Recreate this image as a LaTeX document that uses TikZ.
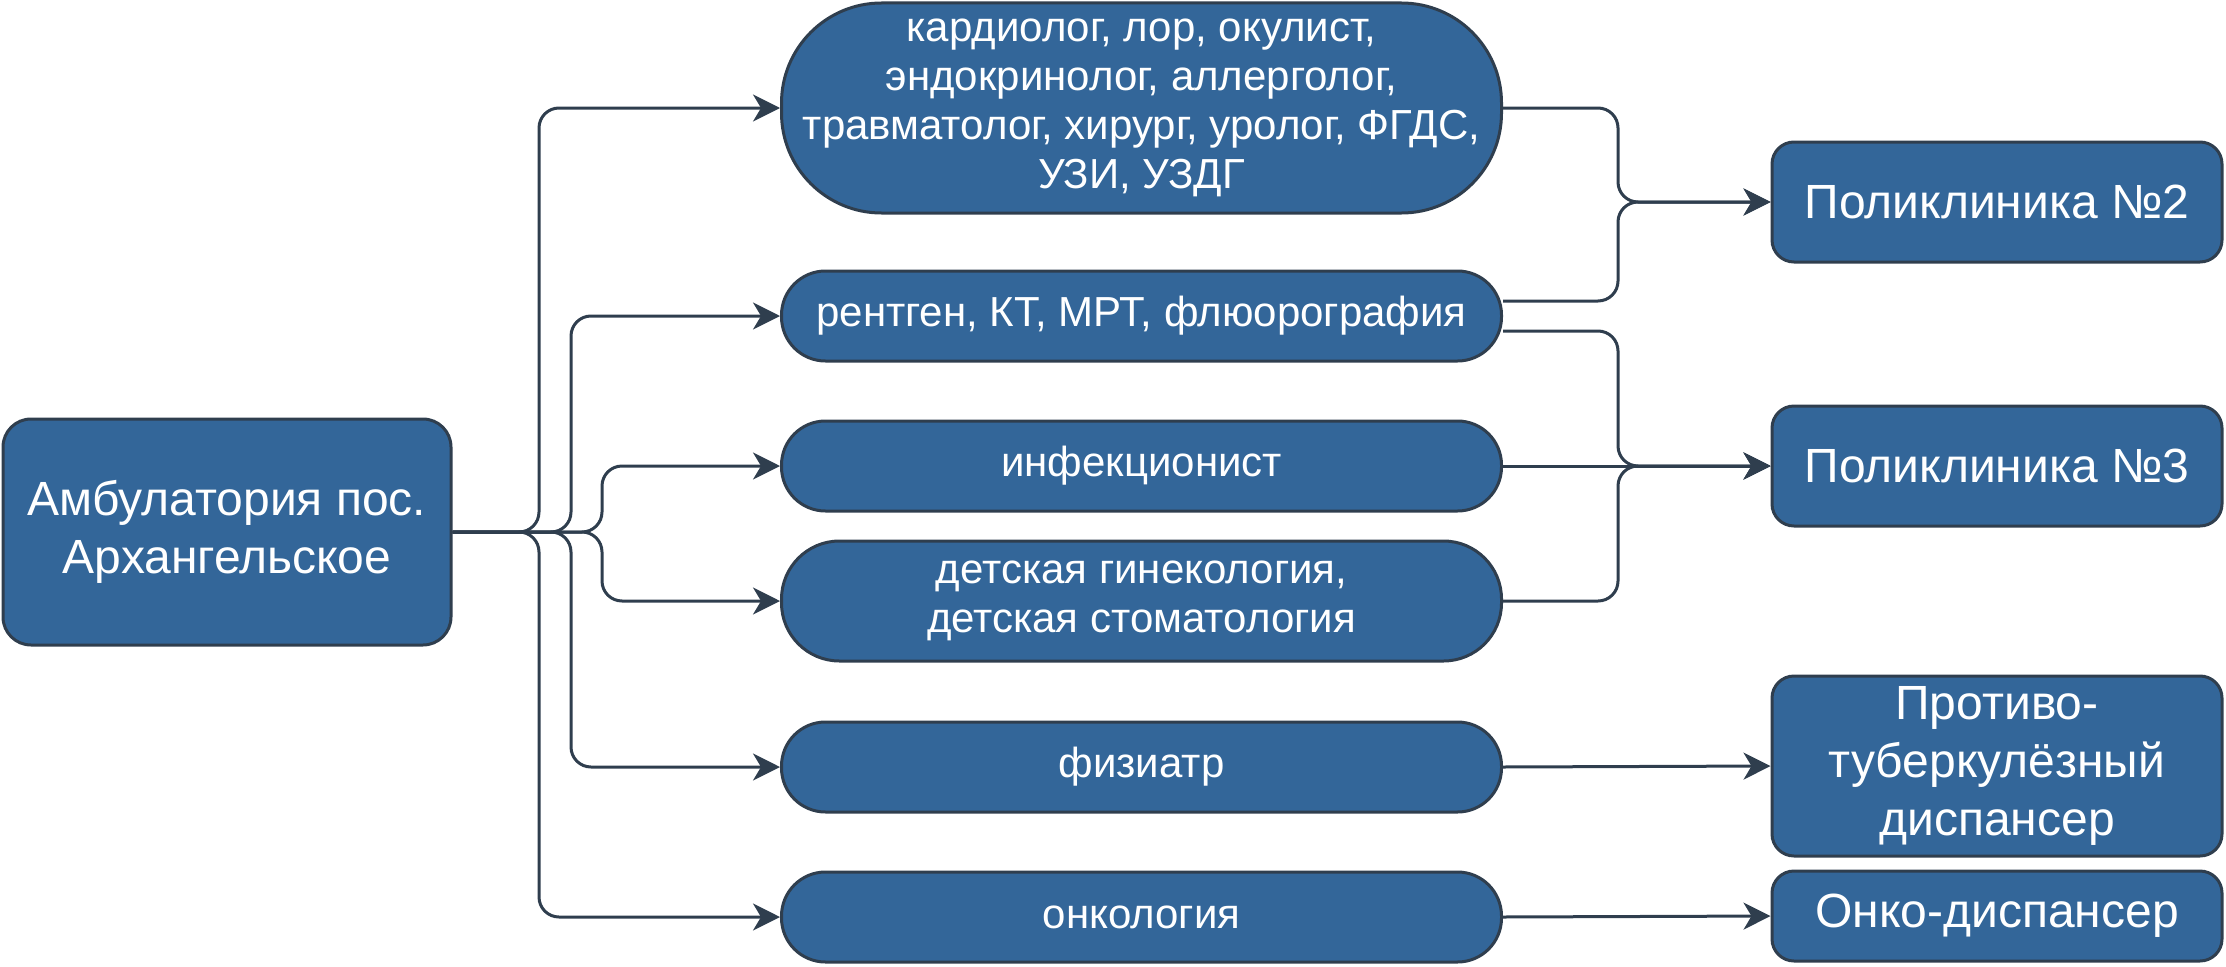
\documentclass[tikz,border=0pt]{standalone}
\usepackage{fontspec}
\setmainfont{Liberation Sans}
\usetikzlibrary{arrows.meta}
\definecolor{boxfill}{HTML}{336699}
\definecolor{boxline}{HTML}{2F3E4E}

\begin{document}
\begin{tikzpicture}[x=1pt,y=-1pt,
  big/.style={draw=boxline, fill=boxfill, line width=3pt, text=white, align=center, inner sep=0pt, rounded corners=22pt, minimum width=450pt, font=\fontsize{48}{57.6}\selectfont},
  pill/.style={draw=boxline, fill=boxfill, line width=3pt, text=white, align=center, inner sep=0pt, minimum width=720pt, minimum height=90pt, rounded corners=44pt, font=\fontsize{42}{49}\selectfont},
  link/.style={draw=boxline, line width=3pt, rounded corners=20pt, -{Stealth[length=27pt,width=27pt,inset=8pt]}}]
\useasboundingbox (0,0) rectangle (2226,966);

\node[big, minimum width=448pt, minimum height=226pt, rounded corners=28pt] (amb) at (227,532) {Амбулатория пос.\\Архангельское};

\node[pill, minimum height=210pt, rounded corners=100pt] (p1) at (1141.5,108) {кардиолог, лор, окулист,\\эндокринолог, аллерголог,\\травматолог, хирург, уролог, ФГДС,\\УЗИ, УЗДГ};
\node[pill] (p2) at (1141.5,316) {рентген, КТ, МРТ, флюорография};
\node[pill] (p3) at (1141.5,466) {инфекционист};
\node[pill, minimum height=120pt, rounded corners=58pt] (p4) at (1141.5,601) {детская гинекология,\\детская стоматология};
\node[pill] (p5) at (1141.5,767) {физиатр};
\node[pill] (p6) at (1141.5,917) {онкология};

\node[big, minimum height=120pt] (pk2) at (1997,202) {Поликлиника №2};
\node[big, minimum height=120pt] (pk3) at (1997,466) {Поликлиника №3};
\node[big, minimum height=180pt] (tb) at (1997,766) {Противо-\\туберкулёзный\\диспансер};
\node[big, minimum height=90pt] (onko) at (1997,916) {Онко-диспансер};

\coordinate (tA) at (539,0);
\coordinate (tB) at (571,0);
\coordinate (tC) at (602,0);
\coordinate (mR) at (1618,0);
\coordinate (p2up) at ([yshift=15pt]p2.east);
\coordinate (p2dn) at ([yshift=-15pt]p2.east);

\draw[link] (amb.east) -- (amb.east -| tA) |- (p1.west);
\draw[link] (amb.east) -- (amb.east -| tA) |- (p6.west);
\draw[link] (amb.east) -- (amb.east -| tB) |- (p2.west);
\draw[link] (amb.east) -- (amb.east -| tB) |- (p5.west);
\draw[link] (amb.east) -- (amb.east -| tC) |- (p3.west);
\draw[link] (amb.east) -- (amb.east -| tC) |- (p4.west);

\draw[link] (p1.east) -- (p1.east -| mR) |- (pk2.west);
\draw[link] (p2up) -- (p2up -| mR) |- (pk2.west);
\draw[link] (p2dn) -- (p2dn -| mR) |- (pk3.west);
\draw[link] (p3.east) -- (pk3.west);
\draw[link] (p4.east) -- (p4.east -| mR) |- (pk3.west);
\draw[link] (p5.east) -- (tb.west);
\draw[link] (p6.east) -- (onko.west);
\end{tikzpicture}
\end{document}
